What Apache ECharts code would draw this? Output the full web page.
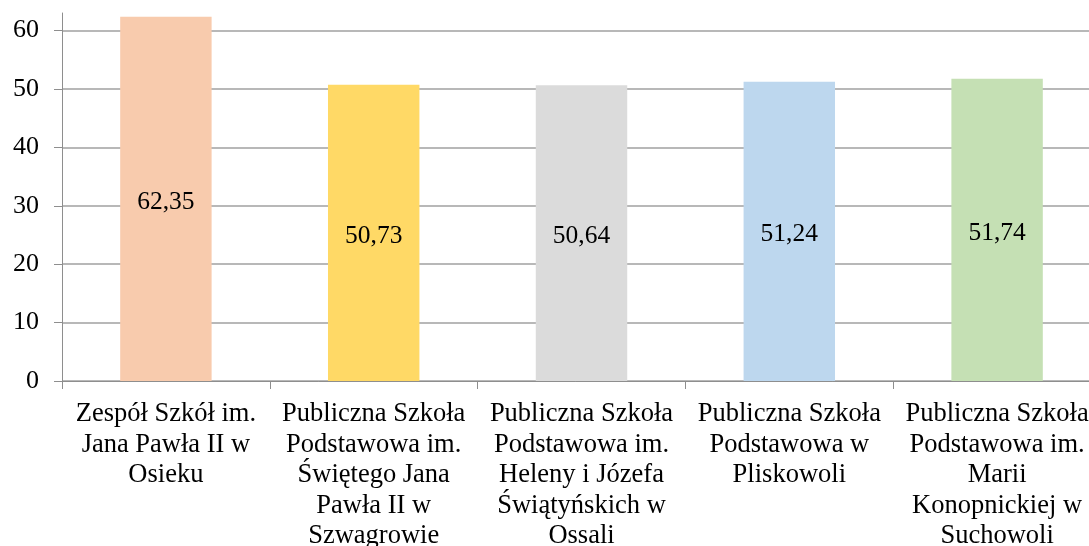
<!DOCTYPE html>
<html>
<head>
<meta charset="utf-8">
<script src="https://cdn.jsdelivr.net/npm/echarts@6/dist/echarts.min.js"></script>
<style>
  html, body { margin: 0; padding: 0; background: #fff; }
</style>
</head>
<body>
<div id="chart" style="width: 1089px; height: 546px;"></div>
<script>
  var categories = [
    'Zespół Szkół im.\nJana Pawła II w\nOsieku',
    'Publiczna Szkoła\nPodstawowa im.\nŚwiętego Jana\nPawła II w\nSzwagrowie',
    'Publiczna Szkoła\nPodstawowa im.\nHeleny i Józefa\nŚwiątyńskich w\nOssali',
    'Publiczna Szkoła\nPodstawowa w\nPliskowoli',
    'Publiczna Szkoła\nPodstawowa im.\nMarii\nKonopnickiej w\nSuchowoli'
  ];
  var values = [62.35, 50.73, 50.64, 51.24, 51.74];
  var barColors = ['#F8CBAD', '#FFD966', '#DBDBDB', '#BDD7EE', '#C5E0B4'];

  var font = '"Liberation Serif", "Times New Roman", serif';

  var chart = echarts.init(document.getElementById('chart'));

  var option = {
    animation: false,
    grid: {
      left: 62,
      right: -12,
      top: 13,
      bottom: 165,
      outerBoundsMode: 'none',
      containLabel: false
    },
    xAxis: {
      type: 'category',
      data: categories,
      axisLine: { lineStyle: { color: '#8E8E8E', width: 1 } },
      axisTick: { show: true, length: 8, lineStyle: { color: '#8E8E8E' } },
      axisLabel: {
        interval: 0,
        margin: 18,
        color: '#000',
        fontFamily: font,
        fontSize: 26.5,
        lineHeight: 30.5,
        align: 'center'
      }
    },
    yAxis: {
      type: 'value',
      min: 0,
      max: 63,
      interval: 10,
      axisLine: { show: true, lineStyle: { color: '#8E8E8E', width: 1 } },
      axisTick: { show: true, length: 8, lineStyle: { color: '#8E8E8E' } },
      axisLabel: {
        margin: 23,
        color: '#000',
        fontFamily: font,
        fontSize: 26,
        showMaxLabel: false
      },
      splitLine: {
        show: true,
        showMaxLine: false,
        lineStyle: { color: '#A0A0A0', width: 1.5 }
      }
    },
    series: [
      {
        type: 'bar',
        barWidth: '44%',
        data: values.map(function (v, i) {
          return { value: v, itemStyle: { color: barColors[i] } };
        }),
        label: {
          show: true,
          position: 'inside',
          offset: [0, 3],
          color: '#000',
          fontFamily: font,
          fontSize: 25.5,
          formatter: function (p) {
            return p.value.toFixed(2).replace('.', ',');
          }
        }
      }
    ]
  };

  chart.setOption(option);
</script>
</body>
</html>
